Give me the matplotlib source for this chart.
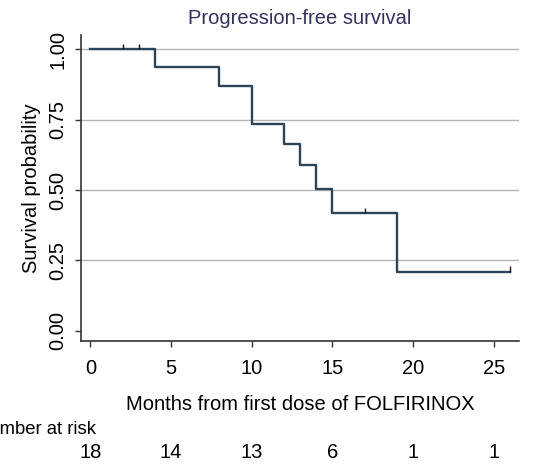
import matplotlib
matplotlib.use("Agg")
import matplotlib.pyplot as plt

plt.rcParams['font.family'] = ['Liberation Sans', 'DejaVu Sans']

# step curve (time, survival after the step)
step_times = [0, 4, 8, 10, 12, 13, 14, 15, 19, 26]
step_surv = [1.0, 0.9375, 0.870, 0.735, 0.664, 0.589, 0.504, 0.418, 0.209, 0.209]

# censored observations
cens_times = [2, 3, 17, 26]
cens_surv = [1.0, 1.0, 0.418, 0.209]

risk_times = [0, 5, 10, 15, 20, 25]
risk_counts = [18, 14, 13, 6, 1, 1]

yticks = [0.0, 0.25, 0.5, 0.75, 1.0]
ytick_labels = ['0.00', '0.25', '0.50', '0.75', '1.00']

line_col = '#2b4459'

fig = plt.figure(figsize=(5.47, 4.68), dpi=100)
ax = fig.add_axes([0.148, 0.271, 0.801, 0.654])

for y in yticks[1:]:
    ax.axhline(y, color='#b4b4b4', lw=1.0, zorder=1)

ax.step(step_times, step_surv, where='post', color=line_col, lw=1.7, zorder=3)
ax.vlines(cens_times, cens_surv, [s + 0.02 for s in cens_surv],
          color='#1a1a1a', lw=1.0, zorder=4)

ax.set_xlim(-0.58, 26.56)
ax.set_ylim(-0.037, 1.051)
ax.set_xticks(risk_times)
ax.set_yticks(yticks)
ax.set_yticklabels(ytick_labels, rotation=90, va='center')
ax.tick_params(axis='both', labelsize=14.5, length=4, width=1.0, color='#333333')
ax.tick_params(axis='x', pad=9)
ax.tick_params(axis='y', pad=6)

for side in ['top', 'right']:
    ax.spines[side].set_visible(False)
for side in ['left', 'bottom']:
    ax.spines[side].set_color('#333333')
    ax.spines[side].set_linewidth(1.2)

ax.set_xlabel('Months from first dose of FOLFIRINOX', fontsize=14.5, labelpad=12)
ax.set_ylabel('Survival probability', fontsize=14.5, labelpad=5)
ax.set_title('Progression-free survival', fontsize=14.5, color='#33335e', pad=8)

# number at risk table
fig.text(-24 / 547, 1 - 430 / 468, 'Number at risk', fontsize=13.3,
         ha='left', va='center')
for t, n in zip(risk_times, risk_counts):
    x_fig = ax.transData.transform((t, 0))[0] / fig.bbox.width
    fig.text(x_fig, 1 - 453 / 468, str(n), fontsize=14.5, ha='center', va='center')

fig.savefig('out.png', dpi=100)
